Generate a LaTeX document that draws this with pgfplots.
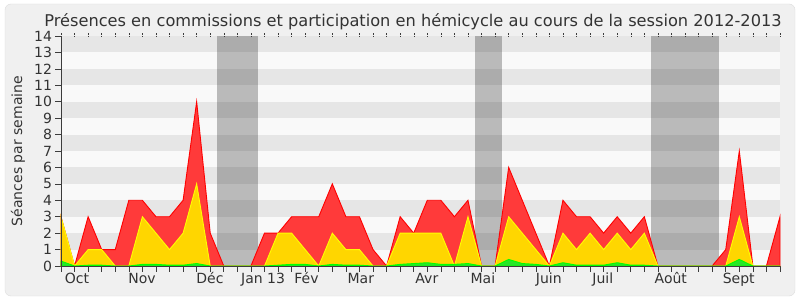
\documentclass[border=0pt]{standalone}
\usepackage{pgfplots}
\pgfplotsset{compat=1.18}
\usepackage{fontspec}
\setmainfont{DejaVu Sans}
\definecolor{bgc}{RGB}{240,240,240}
\definecolor{bordc}{RGB}{222,222,222}
\definecolor{txtc}{RGB}{51,51,51}
\definecolor{stripelight}{RGB}{249,249,249}
\definecolor{stripedark}{RGB}{230,230,230}
\definecolor{axisc}{RGB}{60,60,60}
\definecolor{redfill}{RGB}{255,58,58}
\definecolor{redline}{RGB}{255,0,0}
\definecolor{yelfill}{RGB}{255,214,0}
\definecolor{yelline}{RGB}{255,255,0}
\definecolor{grnfill}{RGB}{40,230,40}
\definecolor{grnline}{RGB}{0,255,0}
\begin{document}
\begin{tikzpicture}[x=1pt,y=1pt]
\fill[white] (0,0) rectangle (800,300);
\filldraw[fill=bgc, draw=bordc, rounded corners=6pt] (5,4) rectangle (795,296);
\node[anchor=base, text=txtc, font=\fontsize{16.2}{19}\selectfont, inner sep=0pt] at (413,273.3) {Présences en commissions et participation en hémicycle au cours de la session 2012-2013};
\begin{axis}[
  at={(61pt,34pt)}, anchor=south west,
  scale only axis, width=719pt, height=230pt,
  xmin=0, xmax=53, ymin=0, ymax=14,
  clip=false,
  axis line style={draw=none},
  tick align=outside,
  xtick pos=bottom, ytick pos=left,
  xtick={0,...,53}, xticklabels={},
  ytick={0,...,14},
  major tick length=5.5pt,
  every tick/.style={draw=axisc, line width=0.6pt},
  extra x ticks={1.18,5.97,10.98,14.9,18.1,22.1,26.97,31.1,35.96,39.94,44.95,49.96},
  extra x tick labels={Oct,Nov,Déc,Jan 13,Fév,Mar,Avr,Mai,Juin,Juil,Août,Sept},
  extra x tick style={major tick length=0pt, xticklabel style={anchor=base, yshift=-17.3pt}},
  ticklabel style={text=txtc, font=\fontsize{14}{16}\selectfont},
  /pgf/number format/assume math mode=true,
  ylabel={Séances par semaine},
  every axis y label/.style={at={(axis description cs:0,0.5)}, xshift=-43pt, rotate=90, anchor=center, text=txtc, font=\fontsize{14}{16}\selectfont},
]
\fill[stripelight] (axis cs:0,0) rectangle (axis cs:53,14);
\fill[stripedark] (axis cs:0,1) rectangle (axis cs:53,2);
\fill[stripedark] (axis cs:0,3) rectangle (axis cs:53,4);
\fill[stripedark] (axis cs:0,5) rectangle (axis cs:53,6);
\fill[stripedark] (axis cs:0,7) rectangle (axis cs:53,8);
\fill[stripedark] (axis cs:0,9) rectangle (axis cs:53,10);
\fill[stripedark] (axis cs:0,11) rectangle (axis cs:53,12);
\fill[stripedark] (axis cs:0,13) rectangle (axis cs:53,14);
\fill[black, opacity=0.25] (axis cs:11.5,0) rectangle (axis cs:14.5,14);
\fill[black, opacity=0.25] (axis cs:30.5,0) rectangle (axis cs:32.5,14);
\fill[black, opacity=0.25] (axis cs:43.5,0) rectangle (axis cs:48.5,14);
\pgfplotsinvokeforeach{0,...,53}{\draw[densely dotted, axisc] (axis cs:#1,14) -- ++(0,3pt);}
\addplot[draw=redline, fill=redfill, line width=0.9pt] coordinates {
(0,3)(1,0)(2,3)(3,1)(4,1)(5,4)(6,4)(7,3)(8,3)(9,4)(10,10)(11,2)(12,0)(13,0)(14,0)(15,2)(16,2)(17,3)(18,3)(19,3)(20,5)(21,3)(22,3)(23,1)(24,0)(25,3)(26,2)(27,4)(28,4)(29,3)(30,4)(31,0)(32,0)(33,6)(34,4)(35,2)(36,0)(37,4)(38,3)(39,3)(40,2)(41,3)(42,2)(43,3)(44,0)(45,0)(46,0)(47,0)(48,0)(49,1)(50,7)(51,0)(52,0)(53,3)
} \closedcycle;
\addplot[draw=yelline, fill=yelfill, line width=0.9pt] coordinates {
(0,3)(1,0)(2,1)(3,1)(4,0)(5,0)(6,3)(7,2)(8,1)(9,2)(10,5)(11,0)(12,0)(13,0)(14,0)(15,0)(16,2)(17,2)(18,1)(19,0)(20,2)(21,1)(22,1)(23,0)(24,0)(25,2)(26,2)(27,2)(28,2)(29,0)(30,3)(31,0)(32,0)(33,3)(34,2)(35,1)(36,0)(37,2)(38,1)(39,2)(40,1)(41,2)(42,1)(43,2)(44,0)(45,0)(46,0)(47,0)(48,0)(49,0)(50,3)(51,0)(52,0)(53,0)
} \closedcycle;
\addplot[draw=grnline, fill=grnfill, line width=0.9pt] coordinates {
(0,0.3)(1,0)(2,0.05)(3,0.05)(4,0)(5,0)(6,0.1)(7,0.1)(8,0.05)(9,0.05)(10,0.15)(11,0)(12,0)(13,0)(14,0)(15,0)(16,0.05)(17,0.1)(18,0.1)(19,0)(20,0.1)(21,0.05)(22,0.05)(23,0)(24,0)(25,0.1)(26,0.15)(27,0.2)(28,0.1)(29,0.1)(30,0.15)(31,0)(32,0)(33,0.4)(34,0.15)(35,0.1)(36,0)(37,0.2)(38,0.05)(39,0.05)(40,0.05)(41,0.2)(42,0.05)(43,0.05)(44,0)(45,0)(46,0)(47,0)(48,0)(49,0)(50,0.4)(51,0)(52,0)(53,0)
} \closedcycle;
\draw[axisc, line width=0.8pt] (axis cs:0,14) -- (axis cs:0,0) -- (axis cs:53,0);
\end{axis}
\end{tikzpicture}
\end{document}
